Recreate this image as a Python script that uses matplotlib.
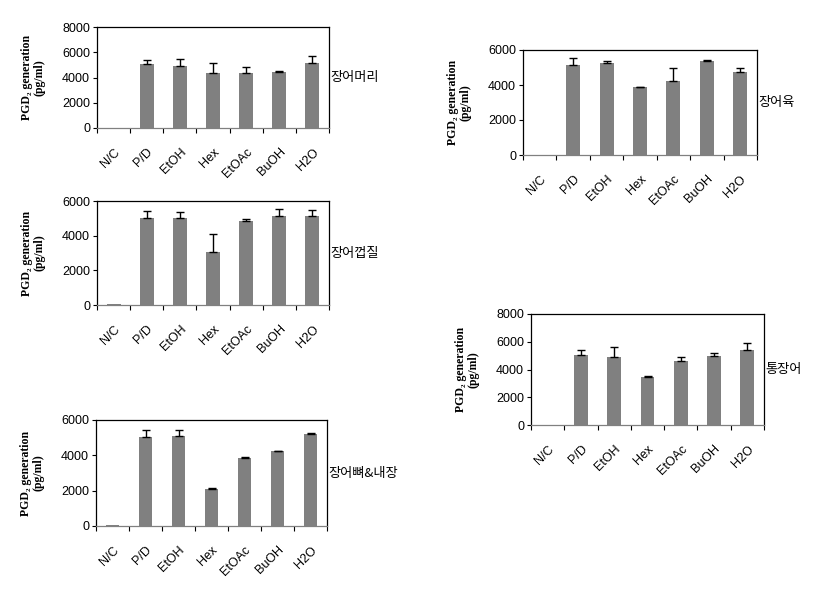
import matplotlib
matplotlib.use('Agg')
import matplotlib.pyplot as plt

plt.rcParams['font.family'] = ['Liberation Sans', 'Noto Sans CJK KR', 'DejaVu Sans']

# --- data ---
categories = ['N/C', 'P/D', 'EtOH', 'Hex', 'EtOAc', 'BuOH', 'H2O']

head_vals = [0, 5080, 4890, 4370, 4370, 4450, 5160]
head_err = [0, 340, 610, 760, 500, 100, 520]

skin_vals = [50, 5020, 5020, 3060, 4870, 5130, 5130]
skin_err = [0, 400, 350, 1020, 80, 390, 330]

bone_vals = [40, 5020, 5080, 2090, 3830, 4230, 5210]
bone_err = [0, 400, 370, 40, 90, 20, 40]

meat_vals = [0, 5130, 5250, 3870, 4210, 5380, 4730]
meat_err = [0, 390, 120, 20, 790, 40, 270]

whole_vals = [0, 5060, 4920, 3470, 4630, 4990, 5420]
whole_err = [0, 340, 700, 50, 270, 190, 480]

W, H = 818, 600
fig = plt.figure(figsize=(W / 100, H / 100), dpi=100)


# --- panels ---
def panel(box, vals, err, ymax, name):
    left, right, top, bottom = box
    ax = fig.add_axes([left / W, 1 - bottom / H, (right - left) / W, (bottom - top) / H])
    x = list(range(len(categories)))
    ax.bar(x, vals, width=0.42, color='#808080', zorder=2)
    # plus-only error bars, skip the empty controls
    ex = [i for i in x if err[i] > 0]
    ax.errorbar(ex, [vals[i] for i in ex], yerr=[[0] * len(ex), [err[i] for i in ex]],
                fmt='none', ecolor='black', elinewidth=1.0, capsize=3, capthick=1.0, zorder=3)
    ax.set_xlim(-0.5, len(categories) - 0.5)
    ax.set_ylim(0, ymax)
    ax.set_yticks(range(0, ymax + 1, 2000))
    ax.tick_params(axis='y', labelsize=9, length=3, width=0.8, pad=2)
    ax.set_xticks(x)
    ax.set_xticklabels(categories, rotation=45, ha='right', rotation_mode='anchor', fontsize=9)
    ax.tick_params(axis='x', which='major', length=0, pad=13)
    ax.set_xticks([i - 0.5 for i in range(len(categories) + 1)], minor=True)
    ax.tick_params(axis='x', which='minor', length=3.5, width=0.8)
    for s in ax.spines.values():
        s.set_linewidth(0.9)
    ax.spines['bottom'].set_color('#808080')
    ax.set_ylabel('PGD\u2082 generation\n(pg/ml)', family=['Liberation Serif', 'DejaVu Serif'],
                  fontweight='bold', fontsize=8.5, labelpad=12, linespacing=1.05)
    ax.text(1.005, 0.5, name, transform=ax.transAxes, family=['Noto Sans CJK KR'],
            fontsize=9.5, va='center', ha='left')
    return ax


panel((97, 329, 27, 128), head_vals, head_err, 8000, '장어머리')
panel((97, 329, 201, 305), skin_vals, skin_err, 6000, '장어껍질')
panel((96, 327, 420, 526), bone_vals, bone_err, 6000, '장어뼈&내장')
panel((523, 757, 50, 155), meat_vals, meat_err, 6000, '장어육')
panel((531, 764, 314, 425), whole_vals, whole_err, 8000, '통장어')

plt.savefig('out.png', dpi=100)
plt.close()
